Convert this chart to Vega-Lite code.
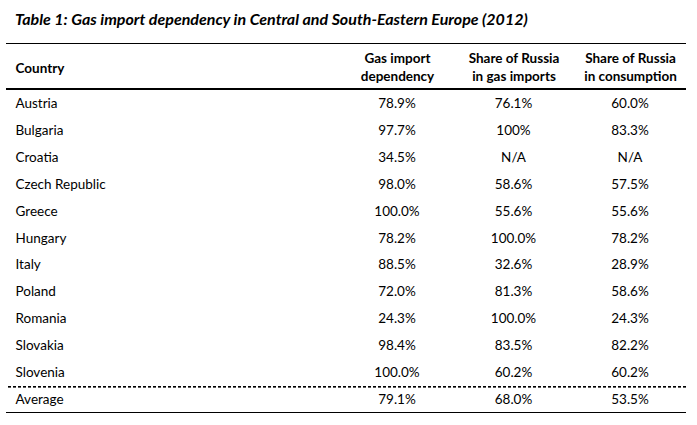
{
  "$schema": "https://vega.github.io/schema/vega-lite/v6.json",
  "width": 680,
  "height": 369,
  "autosize": {"type": "none"},
  "padding": {"top": 43, "left": 6, "right": 11, "bottom": 13},
  "background": "white",
  "title": {
    "text": "Table 1: Gas import dependency in Central and South-Eastern Europe (2012)",
    "anchor": "start",
    "frame": "group",
    "font": "Lato",
    "fontSize": 16,
    "fontWeight": "bold",
    "fontStyle": "italic",
    "color": "black",
    "offset": 15,
    "dx": 9
  },
  "config": {
    "view": {"stroke": null},
    "axis": {"grid": false},
    "font": "Lato"
  },
  "data": {
    "values": [
      {"Country": "Austria", "dependency": "78.9%", "russia_imports": "76.1%", "russia_consumption": "60.0%"},
      {"Country": "Bulgaria", "dependency": "97.7%", "russia_imports": "100%", "russia_consumption": "83.3%"},
      {"Country": "Croatia", "dependency": "34.5%", "russia_imports": "N/A", "russia_consumption": "N/A"},
      {"Country": "Czech Republic", "dependency": "98.0%", "russia_imports": "58.6%", "russia_consumption": "57.5%"},
      {"Country": "Greece", "dependency": "100.0%", "russia_imports": "55.6%", "russia_consumption": "55.6%"},
      {"Country": "Hungary", "dependency": "78.2%", "russia_imports": "100.0%", "russia_consumption": "78.2%"},
      {"Country": "Italy", "dependency": "88.5%", "russia_imports": "32.6%", "russia_consumption": "28.9%"},
      {"Country": "Poland", "dependency": "72.0%", "russia_imports": "81.3%", "russia_consumption": "58.6%"},
      {"Country": "Romania", "dependency": "24.3%", "russia_imports": "100.0%", "russia_consumption": "24.3%"},
      {"Country": "Slovakia", "dependency": "98.4%", "russia_imports": "83.5%", "russia_consumption": "82.2%"},
      {"Country": "Slovenia", "dependency": "100.0%", "russia_imports": "60.2%", "russia_consumption": "60.2%"},
      {"Country": "Average", "dependency": "79.1%", "russia_imports": "68.0%", "russia_consumption": "53.5%"}
    ]
  },
  "layer": [
    {
      "transform": [{"fold": ["dependency", "russia_imports", "russia_consumption"], "as": ["column", "value"]}],
      "mark": {"type": "text", "font": "Lato", "fontSize": 13.5, "color": "black", "align": "center", "baseline": "middle"},
      "encoding": {
        "x": {
          "field": "column",
          "type": "nominal",
          "scale": {"type": "point", "domain": ["dependency", "russia_imports", "russia_consumption"], "range": [391, 624], "padding": 0},
          "axis": {
            "orient": "top",
            "title": null,
            "domain": false,
            "ticks": false,
            "tickSize": 0,
            "labelPadding": -15,
            "labelBaseline": "middle",
            "labelAlign": "center",
            "labelFont": "Lato",
            "labelFontSize": 13.5,
            "labelFontWeight": "bold",
            "labelColor": "black",
            "labelLineHeight": 18,
            "labelAngle": 0,
            "labelOverlap": false,
            "labelBound": false,
            "labelFlush": false,
            "labelLimit": 0,
            "labelExpr": "datum.label == 'dependency' ? ['Gas import', 'dependency'] : datum.label == 'russia_imports' ? ['Share of Russia', 'in gas imports'] : ['Share of Russia', 'in consumption']"
          }
        },
        "y": {
          "field": "Country",
          "type": "nominal",
          "scale": {"type": "band", "domain": ["Austria", "Bulgaria", "Croatia", "Czech Republic", "Greece", "Hungary", "Italy", "Poland", "Romania", "Slovakia", "Slovenia", "Average"], "range": [47.5, 370.5], "paddingInner": 0, "paddingOuter": 0},
          "axis": {
            "orient": "left",
            "title": "Country",
            "titleAngle": 0,
            "titleAlign": "left",
            "titleBaseline": "middle",
            "titleX": 9,
            "titleY": 25,
            "titleFont": "Lato",
            "titleFontSize": 13.5,
            "titleFontWeight": "bold",
            "titleColor": "black",
            "domain": false,
            "ticks": false,
            "tickSize": 0,
            "labelPadding": -9,
            "labelAlign": "left",
            "labelBaseline": "middle",
            "labelFont": "Lato",
            "labelFontSize": 13.5,
            "labelColor": "black",
            "labelOverlap": false,
            "labelBound": false,
            "labelLimit": 0
          }
        },
        "text": {"field": "value", "type": "nominal"}
      }
    },
    {
      "mark": {"type": "rule", "color": "black", "strokeWidth": 1, "yOffset": -47},
      "encoding": {
        "y": {"datum": "Austria", "type": "nominal", "bandPosition": 0}
      }
    },
    {
      "mark": {"type": "rule", "color": "black", "strokeWidth": 1, "yOffset": -1.5},
      "encoding": {
        "y": {"datum": "Austria", "type": "nominal", "bandPosition": 0}
      }
    },
    {
      "mark": {"type": "rule", "color": "black", "strokeWidth": 1, "strokeDash": [3, 2]},
      "encoding": {
        "y": {"datum": "Average", "type": "nominal", "bandPosition": 0}
      }
    },
    {
      "mark": {"type": "rule", "color": "black", "strokeWidth": 1, "yOffset": -1},
      "encoding": {
        "y": {"datum": "Average", "type": "nominal", "bandPosition": 1}
      }
    }
  ]
}
